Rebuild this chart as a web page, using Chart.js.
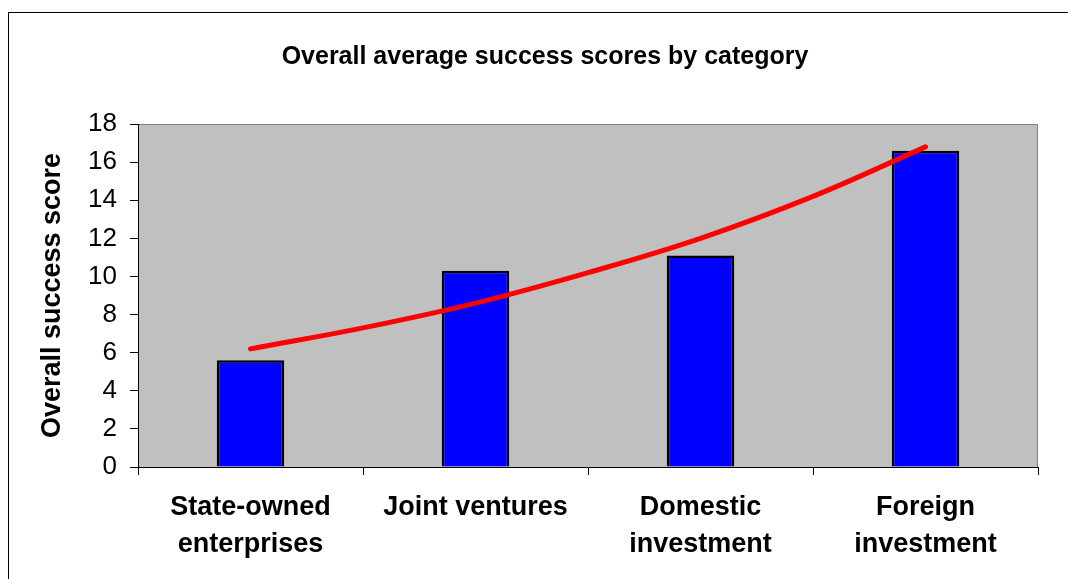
<!DOCTYPE html>
<html>
<head>
<meta charset="utf-8">
<script src="https://cdn.jsdelivr.net/npm/chart.js@4/dist/chart.umd.min.js"></script>
<style>
  html, body { margin: 0; padding: 0; background: #fff; }
  #wrap { position: relative; width: 1068px; height: 579px; }
</style>
</head>
<body>
<div id="wrap"><canvas id="chart_successScores"></canvas></div>
<script>
// values
var categories = [
    ['State-owned', 'enterprises'],
    'Joint ventures',
    ['Domestic', 'investment'],
    ['Foreign', 'investment']
];
var successScores = [5.6, 10.3, 11.1, 16.6];

// red trend curve, sampled by eye at half-category steps
var trendX = [0, 0.5, 1, 1.5, 2, 2.5, 3];
var trendY = [6.2, 7.3, 8.6, 10.2, 12.0, 14.2, 16.8];

var yTicks = { min: 0, max: 18, step: 2 };

var FONT = 'Arial, "Liberation Sans", sans-serif';

var trendPoints = trendX.map(function (x, i) { return { x: x, y: trendY[i] }; });

var chart_successScores = new Chart(document.getElementById('chart_successScores'), {
    type: 'bar',
    data: {
        labels: categories,
        datasets: [
            {
                type: 'line',
                label: 'Trend',
                xAxisID: 'xTrend',
                data: trendPoints,
                borderColor: '#ff0000',
                borderWidth: 5,
                borderCapStyle: 'round',
                pointRadius: 0,
                tension: 0.4,
                fill: false,
                order: 0
            },
            {
                label: 'Overall success score',
                data: successScores,
                backgroundColor: '#0000ff',
                borderColor: '#000000',
                borderWidth: 2.5,
                grouped: false,
                categoryPercentage: 1,
                barPercentage: 0.3,
                order: 1
            }
        ]
    },
    options: {
        animation: false,
        responsive: true,
        maintainAspectRatio: false,
        layout: {
            padding: { left: 52, right: 30, top: 0, bottom: 0 }
        },
        plugins: {
            legend: { display: false },
            tooltip: { enabled: false },
            title: {
                display: true,
                text: 'Overall average success scores by category',
                color: '#000',
                font: { family: FONT, size: 25, weight: 'bold', lineHeight: 1.2 },
                padding: { top: 42, bottom: 52 }
            }
        },
        scales: {
            x: {
                type: 'category',
                offset: true,
                afterFit: function (scale) { scale.height = 112; },
                grid: {
                    display: true,
                    offset: true,
                    drawOnChartArea: false,
                    drawTicks: true,
                    tickLength: 8,
                    color: '#000'
                },
                border: { display: true, color: '#000', width: 1 },
                ticks: {
                    color: '#000',
                    padding: 14,
                    maxRotation: 0,
                    autoSkip: false,
                    font: { family: FONT, size: 27, weight: 'bold', lineHeight: 1.37 }
                }
            },
            xTrend: {
                type: 'linear',
                display: false,
                offset: false,
                min: -0.5,
                max: 3.5
            },
            y: {
                type: 'linear',
                min: yTicks.min,
                max: yTicks.max,
                afterFit: function (scale) { scale.width = 86; },
                title: {
                    display: true,
                    text: 'Overall success score',
                    color: '#000',
                    font: { family: FONT, size: 27, weight: 'bold', lineHeight: 1.2 },
                    padding: { top: -16, bottom: 0 }
                },
                grid: {
                    display: true,
                    drawOnChartArea: false,
                    drawTicks: true,
                    tickLength: 8,
                    color: '#000'
                },
                border: { display: true, color: '#000', width: 1 },
                ticks: {
                    stepSize: yTicks.step,
                    color: '#000',
                    padding: 13,
                    font: { family: FONT, size: 26 }
                }
            }
        }
    },
    plugins: [{
        id: 'plotFrame',
        beforeDraw: function (chart) {
            var ctx = chart.ctx;
            var a = chart.chartArea;
            ctx.save();
            ctx.fillStyle = '#ffffff';
            ctx.fillRect(0, 0, chart.width, chart.height);
            // outer chart frame (runs off the right and bottom edges)
            ctx.strokeStyle = '#000';
            ctx.lineWidth = 1;
            ctx.strokeRect(8.5, 12.5, chart.width + 20, chart.height + 20);
            // grey plot area
            ctx.fillStyle = '#c0c0c0';
            ctx.fillRect(a.left, a.top, a.right - a.left, a.bottom - a.top);
            ctx.strokeStyle = '#808080';
            ctx.beginPath();
            ctx.moveTo(a.left, a.top + 0.5);
            ctx.lineTo(a.right - 0.5, a.top + 0.5);
            ctx.lineTo(a.right - 0.5, a.bottom);
            ctx.stroke();
            ctx.restore();
        }
    }]
});
</script>
</body>
</html>
